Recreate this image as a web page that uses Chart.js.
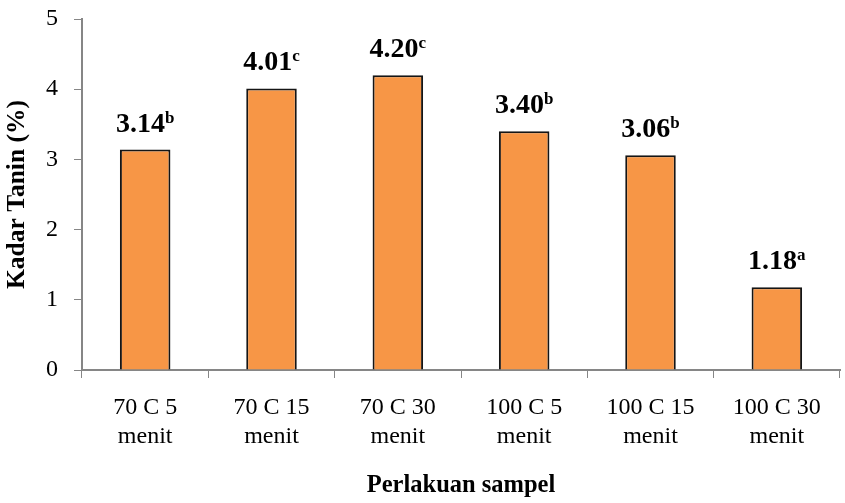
<!DOCTYPE html>
<html>
<head>
<meta charset="utf-8">
<script src="https://cdn.jsdelivr.net/npm/chart.js@4.4.0/dist/chart.umd.min.js"></script>
<style>
  html, body { margin: 0; padding: 0; background: #fff; }
  #wrap { width: 845px; height: 503px; }
</style>
</head>
<body>
<div id="wrap"><canvas id="taninChart" width="845" height="503"></canvas></div>
<script>
// data
const kategori = [["70 C 5", "menit"], ["70 C 15", "menit"], ["70 C 30", "menit"],
                  ["100 C 5", "menit"], ["100 C 15", "menit"], ["100 C 30", "menit"]];
const kadarTanin = [3.14, 4.01, 4.20, 3.40, 3.06, 1.18];
const notasi = ["b", "c", "c", "b", "b", "a"];

const serif = "'Liberation Serif', 'Times New Roman', serif";
const abu = "#868686";

// label nilai + huruf notasi di atas batang
const labelBatang = {
  id: "labelBatang",
  afterDatasetsDraw(chart) {
    const ctx = chart.ctx;
    const meta = chart.getDatasetMeta(0);
    meta.data.forEach((bar, i) => {
      const teks = kadarTanin[i].toFixed(2);
      const huruf = notasi[i];
      ctx.save();
      ctx.fillStyle = "#000";
      ctx.textBaseline = "alphabetic";
      ctx.font = "bold 28px " + serif;
      const w1 = ctx.measureText(teks).width;
      ctx.font = "bold 17px " + serif;
      const w2 = ctx.measureText(huruf).width;
      const x0 = bar.x - (w1 + w2) / 2;
      const y0 = bar.y - 18;
      ctx.font = "bold 28px " + serif;
      ctx.fillText(teks, x0, y0);
      ctx.font = "bold 17px " + serif;
      ctx.fillText(huruf, x0 + w1, y0 - 9);
      ctx.restore();
    });
  }
};

new Chart(document.getElementById("taninChart"), {
  type: "bar",
  data: {
    labels: kategori,
    datasets: [{
      data: kadarTanin,
      backgroundColor: "#F79646",
      borderColor: "#151515",
      borderWidth: 2,
      barPercentage: 0.4,
      categoryPercentage: 1
    }]
  },
  options: {
    responsive: false,
    animation: false,
    layout: { padding: { top: 19, right: 5, left: 0, bottom: 0 } },
    plugins: {
      legend: { display: false },
      tooltip: { enabled: false }
    },
    scales: {
      x: {
        grid: { drawOnChartArea: false, drawTicks: true, tickLength: 8, color: abu, offset: true },
        border: { color: abu, width: 2 },
        ticks: { color: "#000", font: { family: serif, size: 24, lineHeight: 1.22 }, padding: 15, maxRotation: 0 },
        title: { display: true, text: "Perlakuan sampel", color: "#000",
                 font: { family: serif, size: 24.5, weight: "bold" }, padding: { top: 0, bottom: 3 } },
        afterFit: s => { s.height = 133; }
      },
      y: {
        min: 0, max: 5,
        grid: { drawOnChartArea: false, drawTicks: true, tickLength: 8, color: abu },
        border: { color: abu, width: 2 },
        ticks: { stepSize: 1, color: "#000", font: { family: serif, size: 24 }, padding: 16 },
        title: { display: true, text: "Kadar Tanin (%)", color: "#000",
                 font: { family: serif, size: 25.5, weight: "bold" }, padding: { top: 2, bottom: 0 } },
        afterFit: s => { s.width = 82; s.paddingTop = 0; s.paddingBottom = 0; }
      }
    }
  },
  plugins: [labelBatang]
});
</script>
</body>
</html>
